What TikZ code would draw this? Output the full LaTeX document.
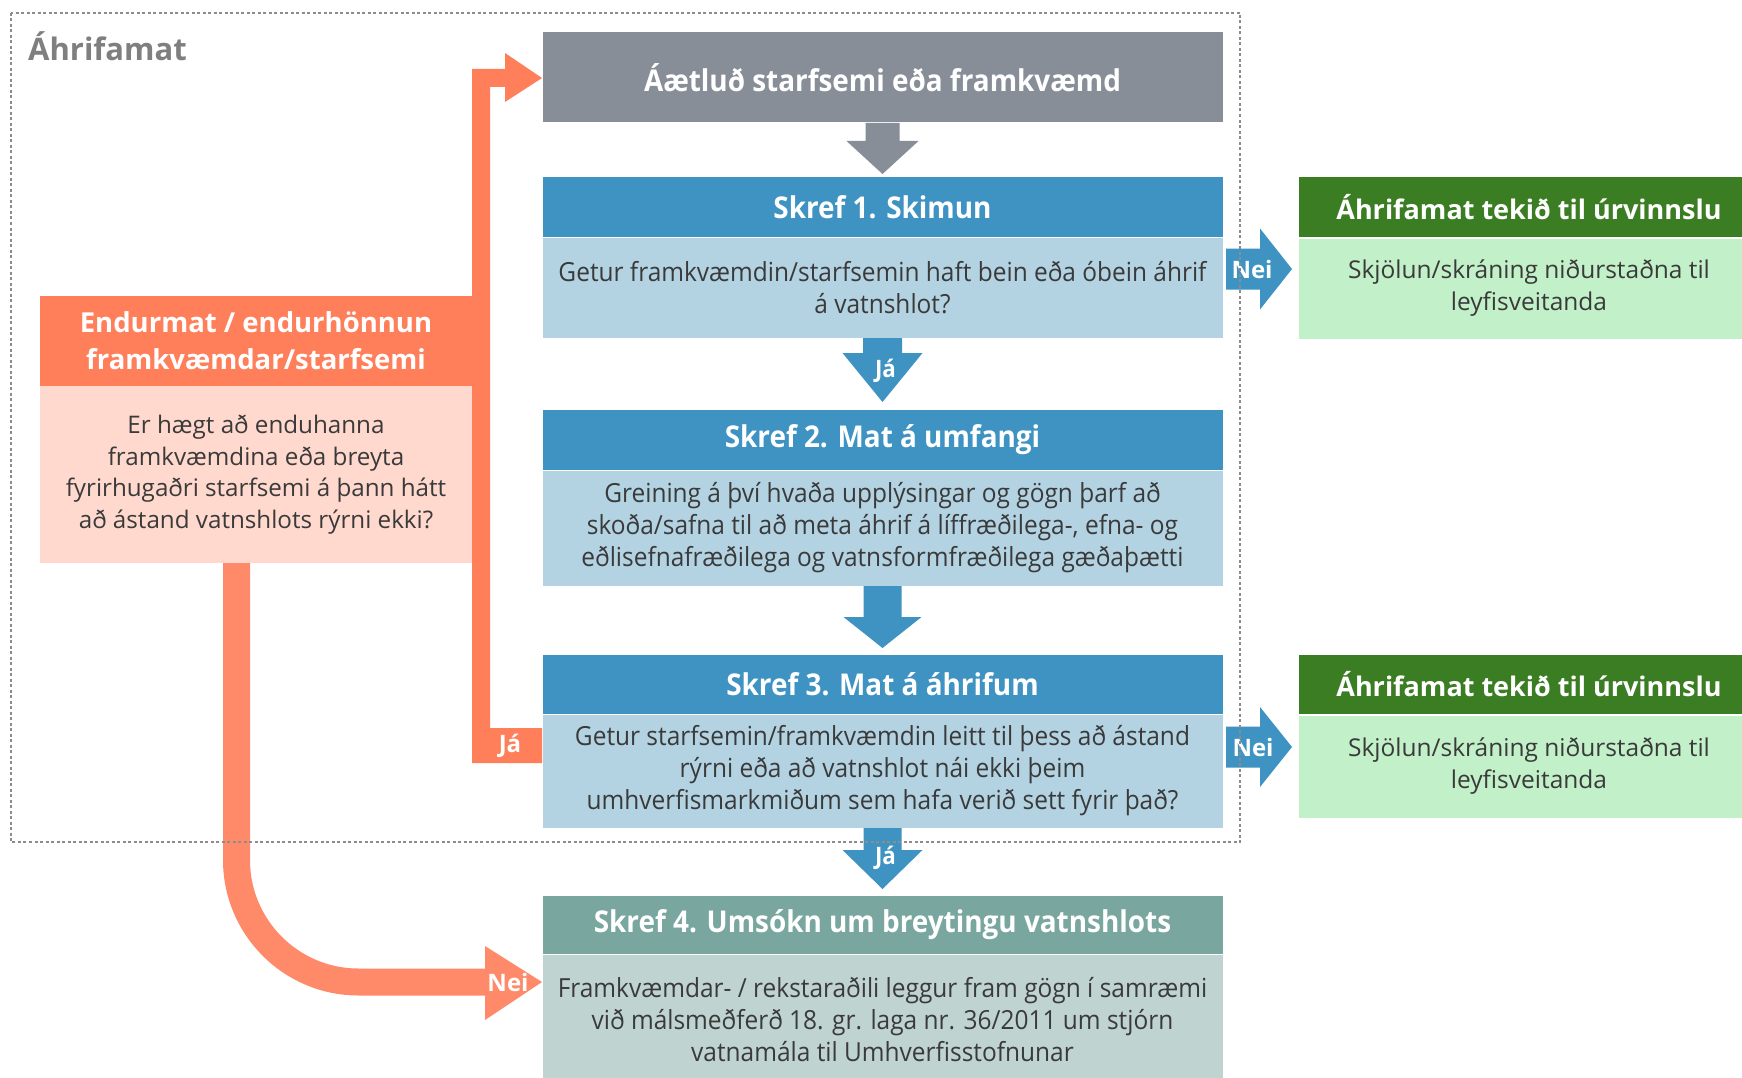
\documentclass[tikz,border=0pt]{standalone}
\usepackage{fontspec}
\setmainfont{Open Sans}
\newfontfamily\nar[FakeStretch=0.93]{Open Sans}
\usetikzlibrary{calc}
\definecolor{cgray}{HTML}{878E98}
\definecolor{cblue}{HTML}{3E93C3}
\definecolor{clblue}{HTML}{B3D3E3}
\definecolor{cgreen}{HTML}{3A7D22}
\definecolor{clgreen}{HTML}{C2F0C8}
\definecolor{cteal}{HTML}{79A79F}
\definecolor{clteal}{HTML}{BFD4D1}
\definecolor{corange}{HTML}{FF7F5B}
\definecolor{corangeb}{HTML}{FF8A69}
\definecolor{cpink}{HTML}{FFD8CE}
\definecolor{ctext}{HTML}{3A3A3A}
\definecolor{cframe}{HTML}{8C8C8C}
\definecolor{ctitle}{HTML}{7F7F7F}
\newcommand\dnarr[6]{%
  \fill[#6] ($(#1)+(-#4,0)$) -- ($(#1)+(-#4,#3)$) -- ($(#1)+(-#5,#3)$) -- (#2)
   -- ($(#1)+(#5,#3)$) -- ($(#1)+(#4,#3)$) -- ($(#1)+(#4,0)$) -- cycle;}
\newcommand\rtarr[6]{%
  \fill[#6] ($#1+(0,-#4)$) -- ($#1+(#3,-#4)$) -- ($#1+(#3,-#5)$) -- #2
   -- ($#1+(#3,#5)$) -- ($#1+(#3,#4)$) -- ($#1+(0,#4)$) -- cycle;}
\begin{document}
\begin{tikzpicture}[x=1pt,y=-1pt,
  box/.style={rectangle, inner sep=0pt, outer sep=0pt, align=center, draw=white, line width=1pt},
  chdr/.style={box, minimum width=681pt, minimum height=60pt, fill=cblue, text=white, font=\nar\bfseries\fontsize{30}{34}\selectfont},
  cbody/.style={box, minimum width=681pt, fill=clblue, text=ctext, font=\nar\fontsize{26.3}{32}\selectfont},
  shdr/.style={box, minimum width=462pt, minimum height=60pt, fill=cgreen, text=white, font=\bfseries\fontsize{27}{30}\selectfont},
  sbody/.style={box, minimum width=462pt, fill=clgreen, text=ctext, font=\fontsize{24.5}{32}\selectfont},
  wlbl/.style={text=white, inner sep=0pt, font=\bfseries\fontsize{24}{26}\selectfont},
  nlbl/.style={text=white, inner sep=0pt, font=\nar\bfseries\fontsize{24}{26}\selectfont}]
\useasboundingbox (0,0) rectangle (1742,1078);
\fill[white] (0,0) rectangle (1742,1078);

% central column
\node[box, fill=cgray, minimum width=681pt, minimum height=91pt, text=white, font=\nar\bfseries\fontsize{30}{34}\selectfont] (gbox) at (882.5,77.5) {Áætluð starfsemi eða framkvæmd};
\node[chdr] (s1h) at (882.5,207) {Skref 1. Skimun};
\node[cbody, minimum height=101pt] (s1b) at (882.5,287.5) {Getur framkvæmdin/starfsemin haft bein eða óbein áhrif\\á vatnshlot?};
\node[chdr, minimum height=61pt] (s2h) at (882.5,439.5) {Skref 2. Mat á umfangi};
\node[cbody, minimum height=116pt] (s2b) at (882.5,528) {Greining á því hvaða upplýsingar og gögn þarf að\\skoða/safna til að meta áhrif á líffræðilega-, efna- og\\eðlisefnafræðilega og vatnsformfræðilega gæðaþætti};
\node[chdr] (s3h) at (882.5,684) {Skref 3. Mat á áhrifum};
\node[cbody, minimum height=114pt] (s3b) at (882.5,771) {Getur starfsemin/framkvæmdin leitt til þess að ástand\\rýrni eða að vatnshlot nái ekki þeim\\umhverfismarkmiðum sem hafa verið sett fyrir það?};
\node[chdr, fill=cteal, minimum height=59pt] (s4h) at (882.5,924.5) {Skref 4. Umsókn um breytingu vatnshlots};
\node[cbody, fill=clteal, minimum height=131pt] (s4b) at (882.5,1019.5) {Framkvæmdar- / rekstaraðili leggur fram gögn í samræmi\\við málsmeðferð 18. gr. laga nr. 36/2011 um stjórn\\vatnamála til Umhverfisstofnunar};

% right column (boxes run past the right edge)
\node[shdr] (g1h) at (1529,207) {Áhrifamat tekið til úrvinnslu};
\node[sbody, minimum height=101pt] (g1b) at (1529,288.5) {Skjölun/skráning niðurstaðna til\\leyfisveitanda};
\node[shdr] (g2h) at (1529,684) {Áhrifamat tekið til úrvinnslu};
\node[sbody, minimum height=103pt] (g2b) at (1529,766.5) {Skjölun/skráning niðurstaðna til\\leyfisveitanda};

% left column
\node[box, draw=none, fill=corange, minimum width=432pt, minimum height=90pt, text=white, font=\bfseries\fontsize{27.5}{37}\selectfont] (oh) at (256,341) {Endurmat / endurhönnun\\framkvæmdar/starfsemi};
\node[box, draw=none, fill=cpink, minimum width=432pt, minimum height=177pt, text=ctext, font=\fontsize{24.2}{31.5}\selectfont] (ob) at (256,474.5) {Er hægt að enduhanna\\framkvæmdina eða breyta\\fyrirhugaðri starfsemi á þann hátt\\að ástand vatnshlots rýrni ekki?};

% title
\node[anchor=west, inner sep=0pt, text=ctitle, font=\bfseries\fontsize{31}{34}\selectfont] (title) at (28,46) {Áhrifamat};

% down arrows
\dnarr{gbox.south}{$(s1h.north)+(0,-3)$}{18}{17}{36}{cgray}
\dnarr{s1b.south}{$(s2h.north)+(0,-7)$}{15}{19.5}{40}{cblue}
\dnarr{s2b.south}{$(s3h.north)+(0,-6)$}{31}{19}{39}{cblue}
\dnarr{s3b.south}{$(s4h.north)+(0,-6)$}{22}{19}{40}{cblue}
\node[nlbl] (ja1) at ($(s1b.south)+(3,33)$) {Já};
\node[nlbl] (ja3) at ($(s3b.south)+(3,30)$) {Já};

% right arrows
\rtarr{(s1b.east)+(3,-18.5)}{($(g1b.west)+(-6,-19.5)$)}{34}{20.5}{40.5}{cblue}
\rtarr{(s3b.east)+(3,-24)}{($(g2b.west)+(-6,-19.5)$)}{34}{20.5}{40}{cblue}
\node[wlbl] (nei1) at ($(s1b.east)+(29,-18.5)$) {Nei};
\node[wlbl] (nei2) at ($(s3b.east)+(30,-24)$) {Nei};

% orange loop back (Já)
\fill[corange] ($(s3b.west)+(0,-8)$) -- (472,763) -- (472,69) -- (505,69) -- (505,53)
  -- ($(gbox.west)+(0,0.5)$) -- (505,102) -- (505,87) -- (490,87) -- (490,728)
  -- ($(s3b.west)+(0,-43)$) -- cycle;
\node[wlbl] (ja2) at ($(s3b.west)+(-32,-25)$) {Já};

% orange curved (Nei)
\draw[corangeb, line width=27pt, rounded corners=122pt] ($(ob.south)+(-19.5,0)$) |- ($(s4b.west)+(-55,-37.5)$);
\fill[corangeb] ($(s4b.west)+(-57,-73.5)$) -- ($(s4b.west)+(0,-37.5)$) -- ($(s4b.west)+(-57,0.5)$) -- cycle;
\node[wlbl] (nei3) at ($(s4b.west)+(-34,-37.5)$) {Nei};

% frame
\draw[cframe, line width=2pt, dash pattern=on 3pt off 2.5pt] (11,13) rectangle (1240,842);
\end{tikzpicture}
\end{document}
